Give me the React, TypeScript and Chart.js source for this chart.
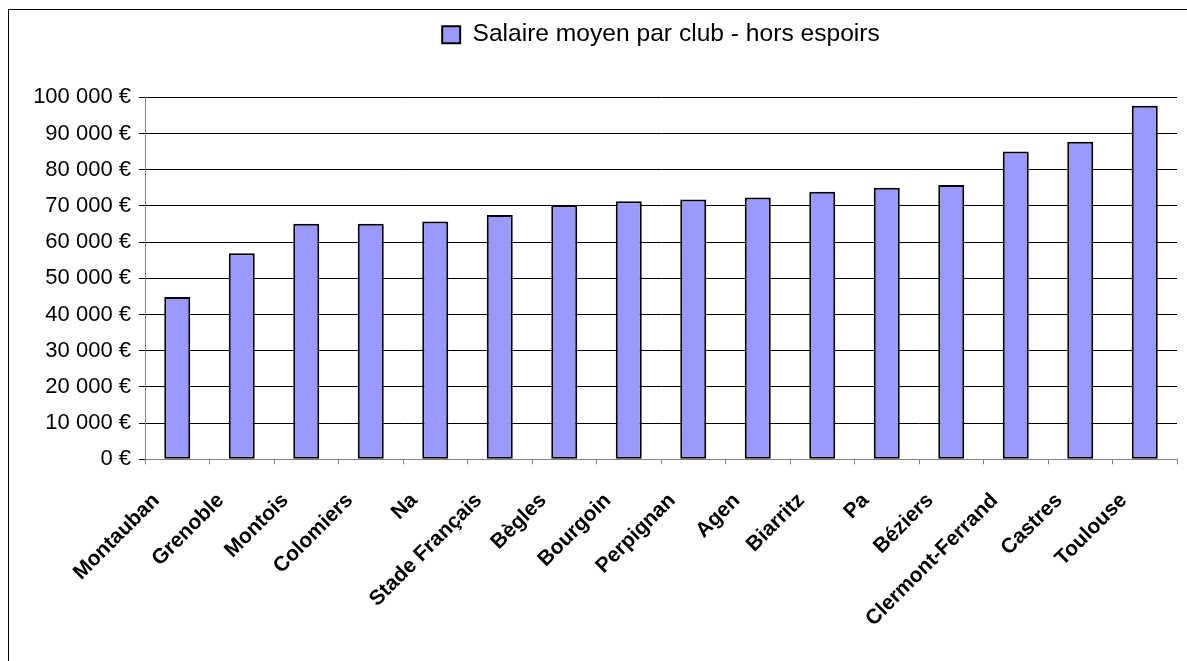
import React, { useEffect, useRef } from 'react';
import { Chart, registerables } from 'chart.js';

Chart.register(...registerables);

const clubs = [
  'Montauban',
  'Grenoble',
  'Montois',
  'Colomiers',
  'Na',
  'Stade Français',
  'Bègles',
  'Bourgoin',
  'Perpignan',
  'Agen',
  'Biarritz',
  'Pa',
  'Béziers',
  'Clermont-Ferrand',
  'Castres',
  'Toulouse',
];

const salaries = [
  44800, 56900, 65100, 65100, 65700, 67500, 70200, 71300,
  71800, 72300, 73900, 75000, 75800, 85000, 87700, 97700,
];

const seriesLabel = 'Salaire moyen par club - hors espoirs';

const yMin = 0;
const yMax = 100000;
const yStep = 10000;

const FONT = '"Liberation Sans", Arial, sans-serif';

function euro(v: number): string {
  return String(Math.round(v)).replace(/\B(?=(\d{3})+(?!\d))/g, ' ') + ' €';
}

export default function App() {
  const ref = useRef<HTMLCanvasElement>(null);

  useEffect(() => {
    if (!ref.current) return;
    const chart = new Chart(ref.current, {
      type: 'bar',
      data: {
        labels: clubs,
        datasets: [
          {
            label: seriesLabel,
            data: salaries,
            backgroundColor: '#9999FF',
            borderColor: '#000000',
            borderWidth: 2,
            borderSkipped: false,
            barPercentage: 0.403,
            categoryPercentage: 1,
          },
        ],
      },
      options: {
        responsive: false,
        animation: false,
        layout: { padding: { top: 2.4, right: 10, bottom: 0, left: 0 } },
        plugins: {
          legend: {
            position: 'top',
            fullSize: false,
            labels: {
              boxWidth: 18,
              boxHeight: 17,
              padding: 10,
              color: '#000000',
              font: { family: FONT, size: 24.6 },
            },
          },
          title: {
            display: true,
            text: '',
            position: 'top',
            fullSize: false,
            weight: 500,
            font: { size: 1, lineHeight: 1 },
            padding: { top: 39.3, bottom: 0 },
          } as any,
          tooltip: { enabled: false },
        },
        scales: {
          x: {
            grid: {
              drawOnChartArea: false,
              color: '#808080',
              tickLength: 5,
              offset: true,
            },
            border: { color: '#808080', width: 1 },
            ticks: {
              autoSkip: false,
              minRotation: 45,
              maxRotation: 45,
              labelOffset: -21,
              padding: 24,
              color: '#000000',
              font: { family: FONT, size: 21, weight: 'bold' },
            },
            afterFit: (s: any) => {
              s.height = 201.7;
            },
          },
          y: {
            min: yMin,
            max: yMax,
            ticks: {
              stepSize: yStep,
              padding: 8,
              color: '#000000',
              font: { family: FONT, size: 22 },
              callback: (v: any) => euro(Number(v)),
            },
            grid: {
              color: (c: any) => (c.tick && c.tick.value === 0 ? 'rgba(0,0,0,0)' : '#000000'),
              tickColor: '#000000',
              tickLength: 6,
            },
            border: { color: '#808080', width: 1 },
            afterFit: (s: any) => {
              s.width = 136;
            },
          },
        },
      } as any,
    });
    return () => chart.destroy();
  }, []);

  return (
    <div
      style={{
        position: 'fixed',
        left: 8,
        top: 9,
        width: 1300,
        height: 800,
        borderLeft: '1px solid #000',
        borderTop: '1px solid #000',
        background: '#fff',
      }}
    >
      <canvas ref={ref} width={1178} height={651} style={{ display: 'block' }} />
    </div>
  );
}
